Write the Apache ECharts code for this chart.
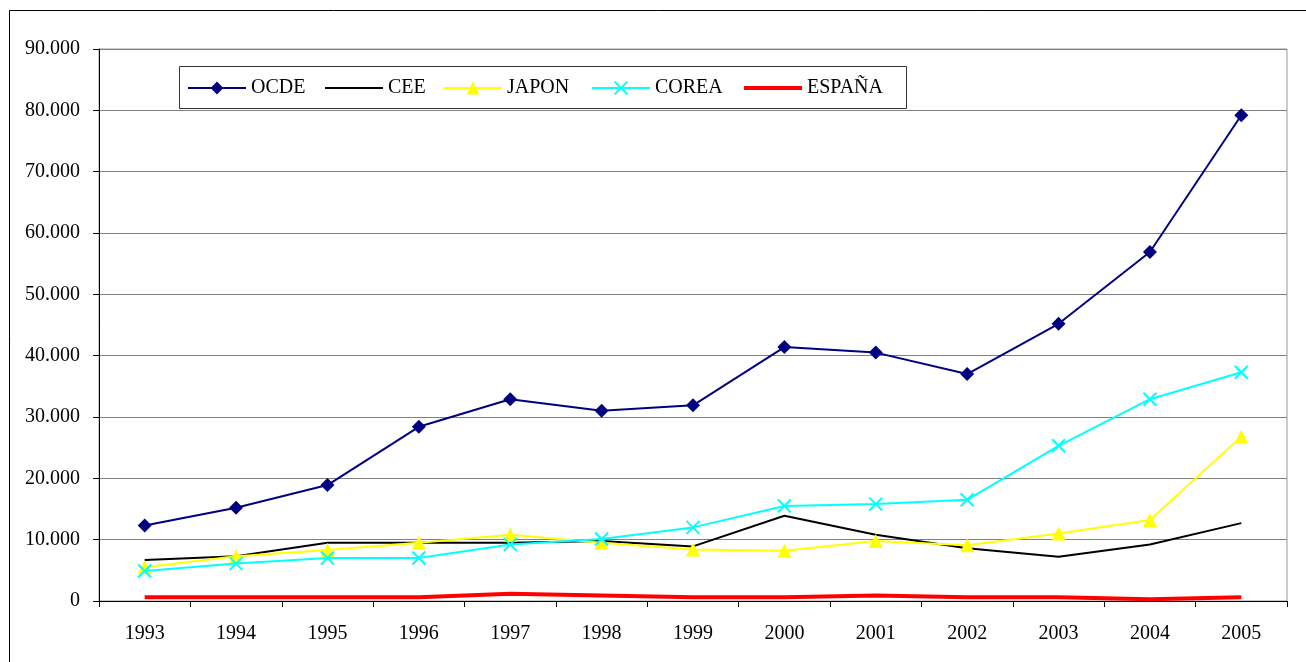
<!DOCTYPE html>
<html>
<head>
<meta charset="utf-8">
<script src="https://cdn.jsdelivr.net/npm/echarts@6/dist/echarts.min.js"></script>
<style>
  html, body { margin: 0; padding: 0; background: #fff; }
  #chart { width: 1306px; height: 662px; }
</style>
</head>
<body>
<div id="chart"></div>
<script>
// data
const years = ['1993', '1994', '1995', '1996', '1997', '1998', '1999', '2000', '2001', '2002', '2003', '2004', '2005'];
const ocde = [12300, 15200, 18900, 28400, 32900, 31000, 31900, 41400, 40500, 37000, 45200, 56900, 79200];
const cee = [6700, 7300, 9500, 9500, 9500, 9800, 8900, 13900, 10800, 8600, 7200, 9200, 12700];
const japon = [5500, 7300, 8300, 9500, 10800, 9500, 8400, 8200, 9800, 9100, 11000, 13200, 26800];
const corea = [4900, 6100, 7000, 7000, 9200, 10100, 12000, 15500, 15800, 16500, 25300, 32900, 37300];
const espana = [600, 600, 600, 600, 1200, 900, 600, 600, 900, 600, 600, 300, 600];

const FONT = 'Liberation Serif';
const crossPath = 'path://M0,0L10,10M10,0L0,10';

const chart = echarts.init(document.getElementById('chart'));

// one legend per entry so each can sit where it does in the picture
function legendAt(name, left, noMarker, lineWidth) {
    const item = { name: name };
    if (noMarker) {
        item.itemStyle = { color: 'rgba(0,0,0,0)', borderWidth: 0 };
    }
    if (lineWidth) {
        item.lineStyle = { width: lineWidth };
    }
    return {
        data: [item],
        left: left,
        top: 78,
        padding: 0,
        itemWidth: 58,
        itemHeight: 16,
        z: 60,
        textStyle: { fontFamily: FONT, fontSize: 20, color: '#000' },
        selectedMode: false
    };
}

chart.setOption({
    animation: false,
    grid: {
        left: 99, top: 49, right: 19, bottom: 61,
        show: true, borderColor: '#999', borderWidth: 1
    },
    graphic: [
        { type: 'line', shape: { x1: 9.5, y1: 10.5, x2: 1306, y2: 10.5 }, style: { stroke: '#000', lineWidth: 1 }, z: 100 },
        { type: 'line', shape: { x1: 9.5, y1: 10.5, x2: 9.5, y2: 662 }, style: { stroke: '#000', lineWidth: 1 }, z: 100 },
        { type: 'rect', shape: { x: 179.5, y: 66.5, width: 727, height: 42 }, style: { fill: '#fff', stroke: '#333', lineWidth: 1 }, z: 20 }
    ],
    legend: [
        legendAt('OCDE', 187),
        legendAt('CEE', 324, true),
        legendAt('JAPON', 443),
        legendAt('COREA', 591),
        legendAt('ESPAÑA', 742, true, 4)
    ],
    xAxis: {
        type: 'category',
        data: years,
        boundaryGap: true,
        axisLine: { lineStyle: { color: '#000', width: 1 } },
        axisTick: { show: true, length: 6, lineStyle: { color: '#000' } },
        axisLabel: { fontFamily: FONT, fontSize: 20, color: '#000', margin: 23 },
        splitLine: { show: false }
    },
    yAxis: {
        type: 'value',
        min: 0,
        max: 90000,
        interval: 10000,
        axisLine: { show: true, lineStyle: { color: '#000', width: 1 } },
        axisTick: { show: true, length: 6, lineStyle: { color: '#000' } },
        axisLabel: {
            fontFamily: FONT, fontSize: 20, color: '#000', margin: 19,
            formatter: v => v === 0 ? '0' : (v / 1000) + '.000'
        },
        splitLine: { lineStyle: { color: '#808080', width: 1 } }
    },
    series: [
        {
            name: 'OCDE', type: 'line', data: ocde,
            symbol: 'diamond', symbolSize: 14,
            lineStyle: { color: '#000080', width: 2 },
            itemStyle: { color: '#000080' }, z: 6
        },
        {
            name: 'CEE', type: 'line', data: cee,
            symbol: 'none',
            lineStyle: { color: '#000', width: 2 },
            itemStyle: { color: '#000' }, z: 3
        },
        {
            name: 'JAPON', type: 'line', data: japon,
            symbol: 'triangle', symbolSize: 14,
            lineStyle: { color: '#ffff00', width: 2 },
            itemStyle: { color: '#ffff00' }, z: 4
        },
        {
            name: 'COREA', type: 'line', data: corea,
            symbol: crossPath, symbolSize: 13,
            lineStyle: { color: '#00ffff', width: 2 },
            itemStyle: { color: '#00ffff', borderColor: '#00ffff', borderWidth: 2 }, z: 5
        },
        {
            name: 'ESPAÑA', type: 'line', data: espana,
            symbol: 'none',
            lineStyle: { color: '#ff0000', width: 4 },
            itemStyle: { color: '#ff0000' }, z: 2
        }
    ]
});
</script>
</body>
</html>
